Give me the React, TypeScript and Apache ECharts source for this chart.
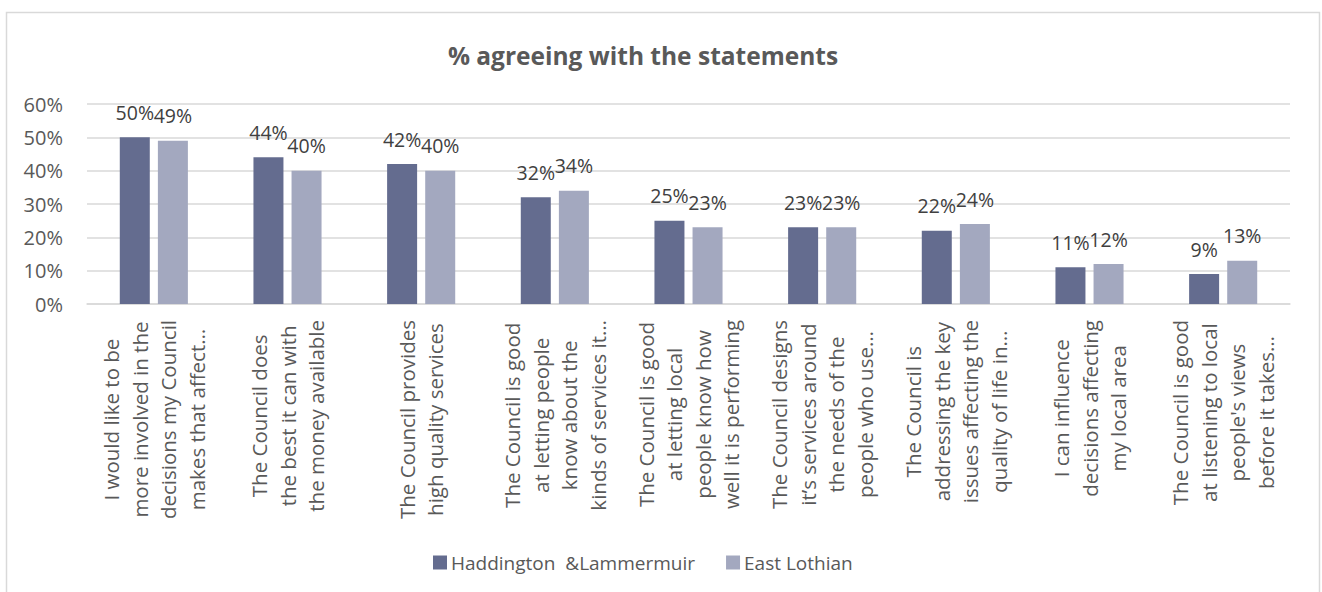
import React, { useEffect, useRef } from "react";
import * as echarts from "echarts";

const categories = [
  "I would like to be\nmore involved in the\ndecisions my Council\nmakes that affect…",
  "The Council does\nthe best it can with\nthe money available",
  "The Council provides\nhigh quality services",
  "The Council is good\nat letting people\nknow about the\nkinds of services it…",
  "The Council is good\nat letting local\npeople know how\nwell it is performing",
  "The Council designs\nit’s services around\nthe needs of the\npeople who use…",
  "The Council is\naddressing the key\nissues affecting the\nquality of life in…",
  "I can influence\ndecisions affecting\nmy local area",
  "The Council is good\nat listening to local\npeople's views\nbefore it takes…",
];
const seriesNames = ["Haddington  &Lammermuir", "East Lothian"];
const haddington = [0.5, 0.44, 0.42, 0.32, 0.25, 0.23, 0.22, 0.11, 0.09];
const eastLothian = [0.49, 0.4, 0.4, 0.34, 0.23, 0.23, 0.24, 0.12, 0.13];
const yTicks = [0, 0.1, 0.2, 0.3, 0.4, 0.5, 0.6];
const colors = ["#646C8F", "#A3A8BF"];

const FONT = "'Open Sans', 'Noto Sans', sans-serif";
const pct = (v: number) => `${Math.round(v * 100)}%`;

export default function App() {
  const ref = useRef<HTMLDivElement>(null);
  useEffect(() => {
    if (!ref.current) return;
    const chart = echarts.init(ref.current, null, { renderer: "svg" });
    const labelStyle = {
      show: true,
      position: "top" as const,
      distance: 15,
      fontSize: 19.5,
      color: "#404040",
      fontFamily: FONT,
      formatter: (p: any) => pct(p.value),
    };
    chart.setOption({
      animation: false,
      backgroundColor: "#ffffff",
      textStyle: { fontFamily: FONT },
      title: {
        text: "% agreeing with the statements",
        left: 643,
        textAlign: "center",
        top: 43,
        padding: 0,
        textStyle: { fontSize: 24.5, fontWeight: "bold", color: "#595959", fontFamily: FONT },
      },
      legend: {
        data: seriesNames,
        left: 428,
        top: 548,
        icon: "rect",
        itemWidth: 14,
        itemHeight: 14,
        itemGap: 31,
        textStyle: { fontSize: 19, color: "#595959", fontFamily: FONT, padding: [0, 0, 0, -1] },
      },
      grid: { left: 87, right: 32, top: 104, height: 200, containLabel: false },
      xAxis: {
        type: "category",
        data: categories,
        axisLine: { lineStyle: { color: "#d9d9d9", width: 1.5 } },
        axisTick: { show: false },
        axisLabel: {
          interval: 0,
          rotate: 90,
          margin: 16,
          formatter: (v: string) =>
            v
              .split("\n")
              .map((l) => `{c|${l}}`)
              .join("\n"),
          rich: {
            c: { align: "center", fontSize: 20.5, lineHeight: 28.5, color: "#595959", fontFamily: FONT },
          },
        },
      },
      yAxis: {
        type: "value",
        min: yTicks[0],
        max: yTicks[yTicks.length - 1],
        interval: 0.1,
        axisLine: { show: false },
        axisTick: { show: false },
        splitLine: { lineStyle: { color: "#d9d9d9", width: 1.5 } },
        axisLabel: {
          margin: 24,
          fontSize: 20,
          color: "#595959",
          fontFamily: FONT,
          formatter: (v: number) => pct(v),
        },
      },
      series: [
        {
          name: seriesNames[0],
          type: "bar",
          data: haddington,
          barWidth: 30,
          barGap: "27%",
          itemStyle: { color: colors[0] },
          label: labelStyle,
        },
        {
          name: seriesNames[1],
          type: "bar",
          data: eastLothian,
          barWidth: 30,
          itemStyle: { color: colors[1] },
          label: labelStyle,
        },
      ],
      graphic: [
        {
          type: "rect",
          shape: { x: 6.5, y: 12.5, width: 1313, height: 640 },
          style: { fill: "none", stroke: "#d9d9d9", lineWidth: 1.5 },
          silent: true,
        },
      ],
    });
    return () => chart.dispose();
  }, []);
  return (
    <div
      ref={ref}
      style={{ position: "fixed", left: 0, top: 0, width: 1322, height: 592 }}
    />
  );
}
